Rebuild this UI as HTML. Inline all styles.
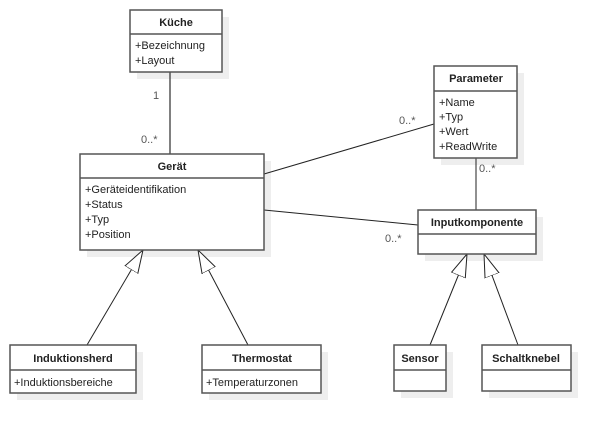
<!DOCTYPE html>
<html><head><meta charset="utf-8"><style>
html,body{margin:0;padding:0;background:#fff;}
svg{display:block;}
text{font-family:"Liberation Sans","DejaVu Sans",sans-serif;font-size:11px;fill:#222;}
.t{font-weight:bold;text-anchor:middle;}
.m{fill:#555;}
.b{fill:#fff;stroke:#555;stroke-width:1.5;}
.s{fill:#eee;}
.l{stroke:#222;stroke-width:1;fill:none;}
.d{stroke:#555;stroke-width:1.5;}
</style></head><body>
<svg width="611" height="433" viewBox="0 0 611 433" xmlns="http://www.w3.org/2000/svg">
<defs>
<marker id="tri" markerUnits="userSpaceOnUse" markerWidth="26" markerHeight="18" refX="23" refY="8" orient="auto">
<path d="M0,0.5 L23,8 L0,15.5 Z" fill="#fff" stroke="#222" stroke-width="1"/>
</marker>
</defs>
<!-- shadows -->
<rect class="s" x="137" y="17" width="92" height="62"/>
<rect class="s" x="87" y="161" width="184" height="96"/>
<rect class="s" x="441" y="73" width="83" height="92"/>
<rect class="s" x="425" y="217" width="118" height="44"/>
<rect class="s" x="17" y="352" width="126" height="48"/>
<rect class="s" x="209" y="352" width="119" height="48"/>
<rect class="s" x="401" y="352" width="52" height="46"/>
<rect class="s" x="489" y="352" width="89" height="46"/>
<!-- connectors -->
<line class="d" x1="170" y1="72" x2="170" y2="154"/>
<line class="l" x1="264" y1="174" x2="434" y2="124"/>
<line class="l" x1="264" y1="210" x2="418" y2="225"/>
<line class="l" x1="476" y1="158" x2="476" y2="210"/>
<line class="l" x1="87" y1="345" x2="143" y2="250" marker-end="url(#tri)"/>
<line class="l" x1="248" y1="345" x2="198" y2="250" marker-end="url(#tri)"/>
<line class="l" x1="430" y1="345" x2="467" y2="254" marker-end="url(#tri)"/>
<line class="l" x1="518" y1="345" x2="484" y2="254" marker-end="url(#tri)"/>
<!-- labels -->
<text class="m" x="153" y="99">1</text>
<text class="m" x="141" y="143">0..*</text>
<text class="m" x="399" y="124">0..*</text>
<text class="m" x="479" y="172">0..*</text>
<text class="m" x="385" y="242">0..*</text>
<!-- Küche -->
<rect class="b" x="130" y="10" width="92" height="62"/>
<line class="d" x1="130" y1="34" x2="222" y2="34"/>
<text class="t" x="176" y="26">Küche</text>
<text x="135" y="49">+Bezeichnung</text>
<text x="135" y="64">+Layout</text>
<!-- Gerät -->
<rect class="b" x="80" y="154" width="184" height="96"/>
<line class="d" x1="80" y1="178" x2="264" y2="178"/>
<text class="t" x="172" y="170">Gerät</text>
<text x="85" y="193">+Geräteidentifikation</text>
<text x="85" y="208">+Status</text>
<text x="85" y="223">+Typ</text>
<text x="85" y="238">+Position</text>
<!-- Parameter -->
<rect class="b" x="434" y="66" width="83" height="92"/>
<line class="d" x1="434" y1="91" x2="517" y2="91"/>
<text class="t" x="476" y="82">Parameter</text>
<text x="439" y="106">+Name</text>
<text x="439" y="120.5">+Typ</text>
<text x="439" y="135">+Wert</text>
<text x="439" y="150">+ReadWrite</text>
<!-- Inputkomponente -->
<rect class="b" x="418" y="210" width="118" height="44"/>
<line class="d" x1="418" y1="234" x2="536" y2="234"/>
<text class="t" x="477" y="226">Inputkomponente</text>
<!-- Induktionsherd -->
<rect class="b" x="10" y="345" width="126" height="48"/>
<line class="d" x1="10" y1="370" x2="136" y2="370"/>
<text class="t" x="73" y="362">Induktionsherd</text>
<text x="14" y="386">+Induktionsbereiche</text>
<!-- Thermostat -->
<rect class="b" x="202" y="345" width="119" height="48"/>
<line class="d" x1="202" y1="370" x2="321" y2="370"/>
<text class="t" x="262" y="362">Thermostat</text>
<text x="206" y="386">+Temperaturzonen</text>
<!-- Sensor -->
<rect class="b" x="394" y="345" width="52" height="46"/>
<line class="d" x1="394" y1="370" x2="446" y2="370"/>
<text class="t" x="420" y="362">Sensor</text>
<!-- Schaltknebel -->
<rect class="b" x="482" y="345" width="89" height="46"/>
<line class="d" x1="482" y1="370" x2="571" y2="370"/>
<text class="t" x="526" y="362">Schaltknebel</text>
</svg>
</body></html>
